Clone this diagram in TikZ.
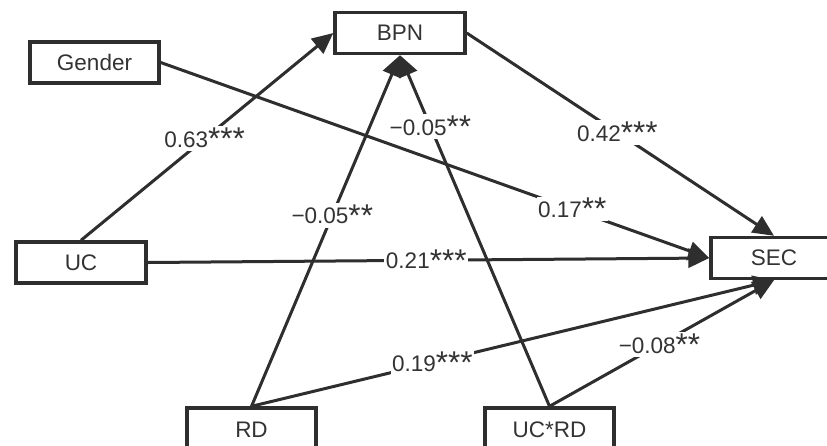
\documentclass[tikz,border=0pt]{standalone}
\usepackage{fontspec}
\usepackage{graphicx}
\setmainfont{Liberation Sans}
\usetikzlibrary{arrows.meta}
\definecolor{ink}{HTML}{2E2E2E}
\definecolor{txt}{HTML}{333333}
% significance star, set larger and lower than the font's own asterisk
\newcommand{\sigstar}{\raisebox{-2.2pt}{\scalebox{1.4}{*}}}
\tikzset{
  var/.style={draw=ink, line width=3.4pt, fill=white, text=txt,
    minimum width=130pt, minimum height=41pt, inner sep=0pt,
    font=\fontsize{22.5}{26}\selectfont},
  path/.style={draw=ink, line width=3pt,
    -{Triangle[length=21pt,width=19pt]}},
  coef/.style={fill=white, text=txt, inner sep=1.5pt,
    font=\fontsize{22.5}{26}\selectfont},
}
\begin{document}
\begin{tikzpicture}[x=1pt,y=-1pt]
  \useasboundingbox (0,0) rectangle (827,445);
  \clip (0,0) rectangle (827,445);
  \fill[white] (0,0) rectangle (827,445);

  % variables
  \node[var] (bpn) at (400,33) {BPN};
  \node[var, minimum width=129pt] (gen) at (94.5,62.5) {Gender};
  \node[var] (uc) at (81,262.5) {UC};
  \node[var, minimum width=126pt] (sec) at (774,258) {SEC};
  \node[var, minimum width=129pt, minimum height=44pt] (rd) at (251.5,430) {RD};
  \node[var, minimum width=129pt, minimum height=44pt] (ucrd) at (549.5,430) {UC*RD};

  % paths
  \draw[path] (uc.north) -- (bpn.west) node[coef, pos=0.49] {0.63\sigstar\sigstar\sigstar};
  \draw[path] (gen.east) -- (sec.west) node[coef, pos=0.75] {0.17\sigstar\sigstar};
  \draw[path] (bpn.east) -- (sec.north) node[coef, pos=0.49] {0.42\sigstar\sigstar\sigstar};
  \draw[path] (uc.east) -- (sec.west) node[coef, pos=0.496] {0.21\sigstar\sigstar\sigstar};
  \draw[path] (rd.north) -- (bpn.south) node[coef, pos=0.544] {−0.05\sigstar\sigstar};
  \draw[path] (ucrd.north) -- (bpn.south) node[coef, pos=0.797] {−0.05\sigstar\sigstar};
  \draw[path] (rd.north) -- (sec.south) node[coef, pos=0.346] {0.19\sigstar\sigstar\sigstar};
  \draw[path] (ucrd.north) -- (sec.south) node[coef, pos=0.49] {−0.08\sigstar\sigstar};
\end{tikzpicture}
\end{document}
